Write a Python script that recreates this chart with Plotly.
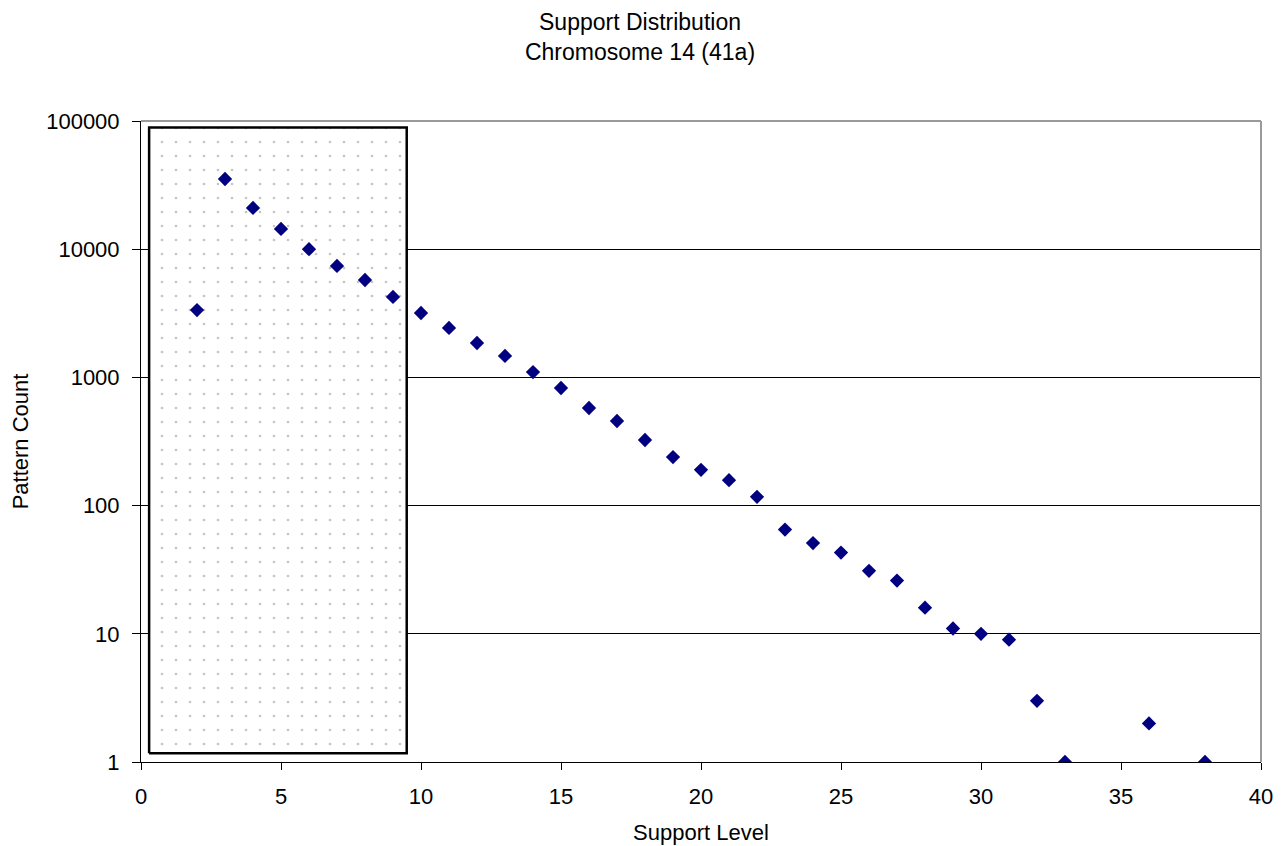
import plotly.graph_objects as go

support_level = [2, 3, 4, 5, 6, 7, 8, 9, 10, 11, 12, 13, 14, 15, 16, 17, 18, 19, 20,
                 21, 22, 23, 24, 25, 26, 27, 28, 29, 30, 31, 32, 33, 36, 38]
pattern_count = [3350, 35300, 21000, 14400, 10000, 7400, 5750, 4240, 3180, 2430, 1855,
                 1470, 1100, 827, 577, 457, 325, 239, 190, 158, 117, 65, 51, 43, 31, 26,
                 16, 11, 10, 9, 3, 1, 2, 1]

# highlighted region (support levels ~0.3 .. 9.5)
box_x = [0.29, 9.49]
box_y = [1.17, 89000]

FONT = "Liberation Sans, Arial, sans-serif"

fig = go.Figure()

# dotted shaded box
fig.add_trace(go.Scatter(
    x=[box_x[0], box_x[1], box_x[1], box_x[0], box_x[0]],
    y=[box_y[0], box_y[0], box_y[1], box_y[1], box_y[0]],
    mode="lines", fill="toself",
    fillcolor="rgba(255,255,255,0)",
    fillpattern=dict(shape=".", size=14, solidity=0.03, fgcolor="#8c8c8c", bgcolor="white"),
    line=dict(color="black", width=2.5),
    hoverinfo="skip", showlegend=False,
))

fig.add_trace(go.Scatter(
    x=support_level, y=pattern_count, mode="markers",
    marker=dict(symbol="diamond", size=11, color="#000080"),
    showlegend=False,
))

W, H = 1275, 838
fig.update_layout(
    width=W, height=H,
    margin=dict(l=133, r=22, t=113, b=84, autoexpand=False),
    paper_bgcolor="white", plot_bgcolor="white",
    font=dict(family=FONT, size=22, color="black"),
    title=dict(text="Support Distribution<br>Chromosome 14 (41a)",
               xref="container", x=(640 - 8) / W, xanchor="center",
               yref="container", y=1 - 22 / H, yanchor="middle",
               font=dict(size=23, family=FONT)),
)

fig.update_xaxes(
    range=[0, 40], dtick=5, tick0=0, showgrid=False, automargin=False,
    showline=True, linecolor="black", linewidth=1, mirror=False,
    ticks="outside", ticklen=7, tickcolor="black", ticklabelstandoff=8,
    title=dict(text="Support Level", standoff=16, font=dict(size=22)),
    zeroline=False,
)
fig.update_yaxes(
    type="log", range=[0, 5], dtick=1, tickformat="d", automargin=False,
    showgrid=True, gridcolor="black", gridwidth=1,
    showline=True, linecolor="black", linewidth=1,
    ticks="outside", ticklen=8, tickcolor="black", ticklabelstandoff=8,
    title=dict(text="Pattern Count", standoff=12, font=dict(size=22)),
    zeroline=False,
)

# gray plot-area border on top/right
fig.add_shape(type="line", xref="paper", yref="paper", x0=0, x1=1, y0=1, y1=1,
              line=dict(color="#9a9a9a", width=2), layer="above")
fig.add_shape(type="line", xref="paper", yref="paper", x0=1, x1=1, y0=0, y1=1,
              line=dict(color="#9a9a9a", width=2), layer="above")

fig.write_html("out.html")
